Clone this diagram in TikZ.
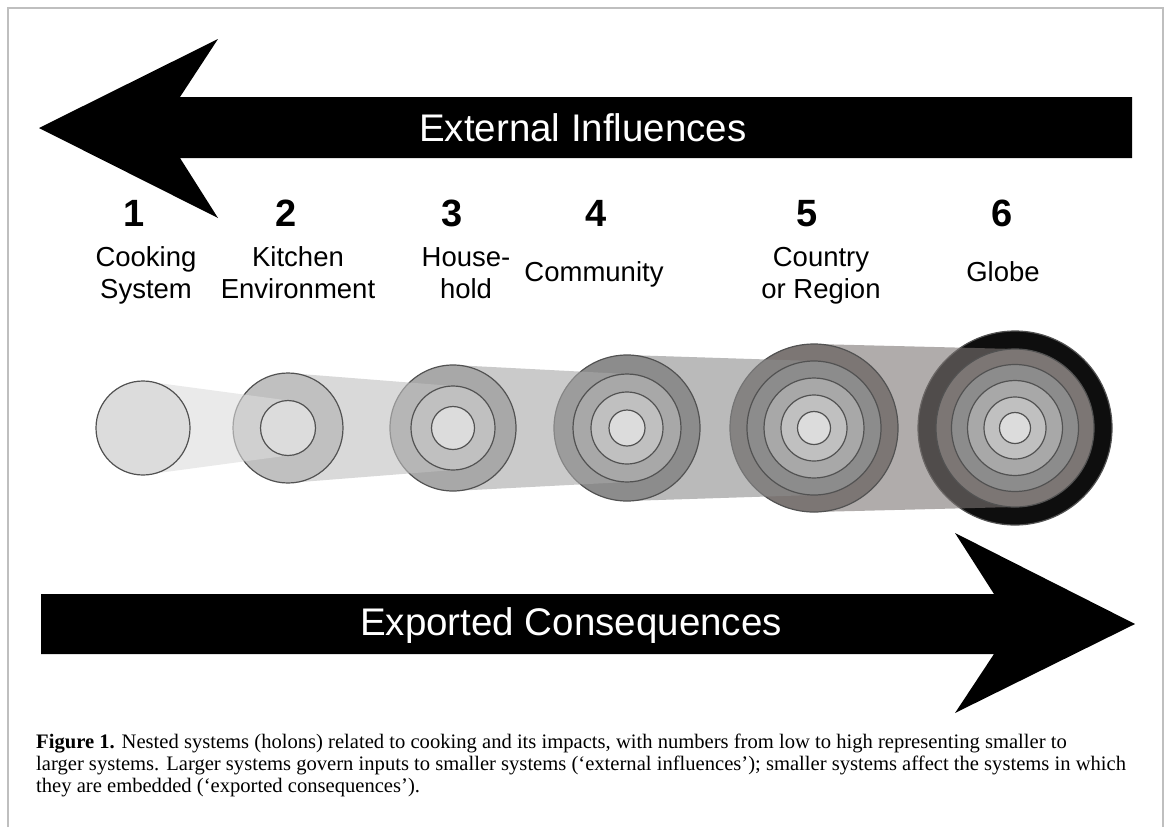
\documentclass[tikz,border=0pt]{standalone}
\usepackage{fontspec}
\setmainfont{Liberation Serif}
\newfontfamily\labelfont{Liberation Sans}
\begin{document}
\begin{tikzpicture}[x=1pt,y=1pt,
    arrowtext/.style={font=\labelfont\fontsize{38.5}{40}\selectfont,text=white,
                      anchor=base,inner sep=0pt},
    num/.style={font=\labelfont\bfseries\fontsize{38}{40}\selectfont,anchor=base,
                inner sep=0pt},
    lbl/.style={font=\labelfont\fontsize{27.5}{32}\selectfont,align=center,
                anchor=base,inner sep=0pt},
    ring/.style={draw=black!68,line width=1.2pt},
    beam/.style={opacity=0.6}]
  % grey levels, inner (1) to outer (6)
  \definecolor{lv1}{RGB}{220,220,220}
  \definecolor{lv2}{RGB}{192,192,192}
  \definecolor{lv3}{RGB}{168,168,168}
  \definecolor{lv4}{RGB}{140,140,140}
  \definecolor{lv5}{RGB}{124,118,116}
  \definecolor{lv6}{RGB}{14,14,14}
  \fill[white] (0,0) rectangle (1169,-827);
  \useasboundingbox (0,0) rectangle (1169,-827);
  \draw[black!25,line width=1.5pt] (8,-827) -- (8,-8) -- (1163,-8) -- (1163,-827);
  \fill (39,-128) -- (218,-39) -- (180,-97) -- (1132,-97) -- (1132,-158)
        -- (180,-158) -- (218,-218) -- cycle;
  \node[arrowtext] (ext) at (583,-141) {External Influences};
  \fill (1135,-624) -- (955,-533) -- (994,-594) -- (41,-594) -- (41,-654)
        -- (994,-654) -- (955,-713) -- cycle;
  \node[arrowtext] (exp) at (571,-635) {Exported Consequences};
  % the base of a two-line label is its second line
  \foreach \i/\nx/\lx/\ly/\txt in {
      1/134/146/298/{Cooking\\System},
      2/286/298/298/{Kitchen\\Environment},
      3/452/466/298/{House-\\hold},
      4/596/594/281/{Community},
      5/807/821/298/{Country\\or Region},
      6/1002/1003/281/{Globe}}{
    \node[num] (n\i) at (\nx,-226) {\i};
    \node[lbl] (l\i) at (\lx,-\ly) {\txt};
  }
  \foreach \n/\cx/\rads/\px/\pr in {
      6/1015/{97,79,63.5,47.5,31,15.5}/814/84,
      5/814/{84,67,50,33,16.5}/627/73,
      4/627/{73,54,36,18}/453/63,
      3/453/{63,42,21.5}/288/55,
      2/288/{55,27.5}/143/47,
      1/143/{47}/0/0}{
    \foreach \r [count=\k] in \rads {
      \pgfmathtruncatemacro\lev{\n-\k+1}
      \pgfmathtruncatemacro\prev{\n-1}
      \ifnum\k=2
        \fill[lv\prev,beam] (\px,-428+\pr) -- (\cx,-428+\r) -- (\cx,-428-\r)
              -- (\px,-428-\pr) -- cycle;
      \fi
      \filldraw[ring,fill=lv\lev] (\cx,-428) circle (\r);
    }
  }
  \node[font=\fontsize{20.6}{22}\selectfont,align=left,anchor=north west,
        inner sep=0pt] (cap) at (36,-734)
    {\textbf{Figure 1.} Nested systems (holons) related to cooking and its impacts, with numbers from low to high representing smaller to\\
     larger systems. Larger systems govern inputs to smaller systems (`external influences'); smaller systems affect the systems in which\\
     they are embedded (`exported consequences').};
\end{tikzpicture}
\end{document}
